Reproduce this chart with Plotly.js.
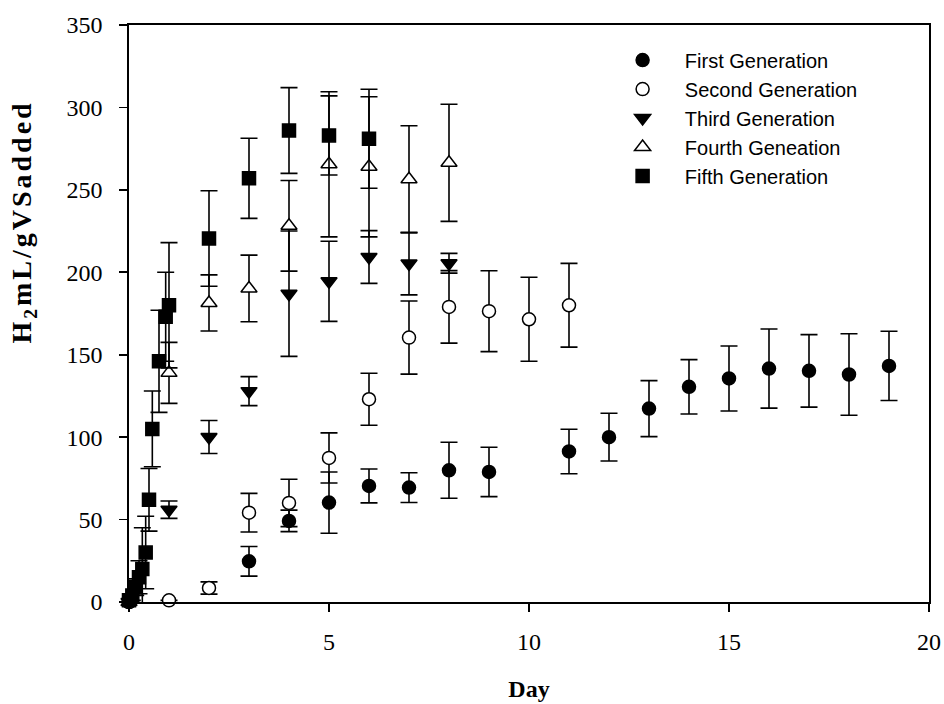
<!DOCTYPE html>
<html>
<head>
<meta charset="utf-8">
<script src="https://cdn.plot.ly/plotly-3.0.1.min.js"></script>
<style>
html,body{margin:0;padding:0;background:#fff;}
#chart{width:944px;height:704px;}
#chart .annotation-text{letter-spacing:3px;}
</style>
</head>
<body>
<div id="chart"></div>
<script>
// Series names
const seriesNames = ["First Generation", "Second Generation", "Third Generation", "Fourth Geneation", "Fifth Generation"];

// First Generation
const firstDay = [0, 3, 4, 5, 6, 7, 8, 9, 11, 12, 13, 14, 15, 16, 17, 18, 19];
const firstH2 = [0, 24.7, 49.2, 60.3, 70.4, 69.4, 79.9, 78.9, 91.3, 100, 117.3, 130.5, 135.6, 141.6, 140.2, 138, 143.2];
const firstErr = [1, 9, 6.5, 18.6, 10.3, 9, 17, 15, 13.5, 14.5, 17, 16.5, 19.7, 24, 22, 24.7, 21];

// Second Generation
const secondDay = [0, 1, 2, 3, 4, 5, 6, 7, 8, 9, 10, 11];
const secondH2 = [0, 1, 8.5, 54.2, 60.1, 87.4, 123, 160.4, 179, 176.4, 171.5, 180];
const secondErr = [0, 0, 3.7, 11.7, 14.4, 15.2, 15.8, 22.2, 22, 24.5, 25.5, 25.4];

// Third Generation
const thirdDay = [0, 1, 2, 3, 4, 5, 6, 7, 8];
const thirdH2 = [0, 56, 100.1, 127.9, 187, 194.5, 209.3, 205.3, 205.5];
const thirdErr = [0, 5.3, 10, 8.8, 38, 24.3, 16, 19, 6];

// Fourth Generation
const fourthDay = [0, 1, 2, 3, 4, 5, 6, 7, 8];
const fourthH2 = [0, 139, 181.4, 190.2, 228.2, 265.5, 264, 256.4, 266.4];
const fourthErr = [0, 18.5, 17, 20.2, 27.5, 44, 42.5, 32.5, 35.5];

// Fifth Generation
const fifthDay = [0, 0.083, 0.167, 0.25, 0.333, 0.417, 0.5, 0.583, 0.75, 0.917, 1, 2, 3, 4, 5, 6];
const fifthH2 = [1, 4, 9, 15, 20, 30, 62, 105, 146, 173, 180, 220.5, 257, 286, 283, 281];
const fifthErr = [1, 3, 5, 10, 25, 22, 19, 23, 31, 27, 38, 29, 24.3, 26, 24, 30];

// Axis ticks
const xTicks = [0, 5, 10, 15, 20];
const yTicks = [0, 50, 100, 150, 200, 250, 300, 350];

function errBar(arr) {
  return {type: 'data', array: arr, visible: true, color: '#000', thickness: 1.6, width: 8.5};
}

const pad = '\u00A0\u00A0\u00A0\u00A0';

const traces = [
  {x: firstDay, y: firstH2, err: firstErr, sym: 'circle', fill: '#000', size: 13},
  {x: secondDay, y: secondH2, err: secondErr, sym: 'circle', fill: '#fff', size: 13},
  {x: thirdDay, y: thirdH2, err: thirdErr, sym: 'triangle-down', fill: '#000', size: 14},
  {x: fourthDay, y: fourthH2, err: fourthErr, sym: 'triangle-up', fill: '#fff', size: 14},
  {x: fifthDay, y: fifthH2, err: fifthErr, sym: 'square', fill: '#000', size: 13}
].map((t, i) => ({
  type: 'scatter',
  mode: 'markers',
  name: pad + seriesNames[i],
  x: t.x,
  y: t.y,
  error_y: errBar(t.err),
  cliponaxis: false,
  marker: {symbol: t.sym, size: t.size, color: t.fill, line: {color: '#000', width: 1.5}}
}));

const serif = 'Liberation Serif, Times New Roman, serif';

const layout = {
  width: 944,
  height: 704,
  paper_bgcolor: '#fff',
  plot_bgcolor: '#fff',
  margin: {l: 129, r: 15, t: 25, b: 102},
  showlegend: true,
  legend: {
    x: 0.617, y: 0.973, xanchor: 'left', yanchor: 'top',
    font: {family: 'Liberation Sans, Arial, sans-serif', size: 20, color: '#000'},
    bgcolor: 'rgba(0,0,0,0)', borderwidth: 0, tracegroupgap: 0
  },
  xaxis: {
    range: [0, 20],
    tickvals: xTicks,
    ticktext: xTicks.map(String),
    showgrid: false, zeroline: false,
    showline: true, linecolor: '#000', linewidth: 1.6, mirror: true,
    ticks: 'outside', ticklen: 8, tickwidth: 1.6, tickcolor: '#000',
    ticklabelstandoff: 10,
    tickfont: {family: serif, size: 24, color: '#000'},
    title: {text: '<b>Day</b>', font: {family: serif, size: 24, color: '#000'}, standoff: 26}
  },
  yaxis: {
    range: [0, 350],
    tickvals: yTicks,
    ticktext: yTicks.map(String),
    showgrid: false, zeroline: false,
    showline: true, linecolor: '#000', linewidth: 1.6, mirror: true,
    ticks: 'outside', ticklen: 8, tickwidth: 1.6, tickcolor: '#000',
    ticklabelstandoff: 12,
    tickfont: {family: serif, size: 24, color: '#000'}
  },
  annotations: [{
    text: '<b>H<sub>2</sub>mL/gVSadded</b>',
    xref: 'paper', yref: 'paper',
    x: (23 - 129) / 800, y: (601.7 - 222) / 576.7,
    xanchor: 'center', yanchor: 'middle',
    textangle: -90, showarrow: false,
    font: {family: serif, size: 28, color: '#000'}
  }]
};

Plotly.newPlot('chart', traces, layout, {displayModeBar: false, staticPlot: true});
</script>
</body>
</html>
